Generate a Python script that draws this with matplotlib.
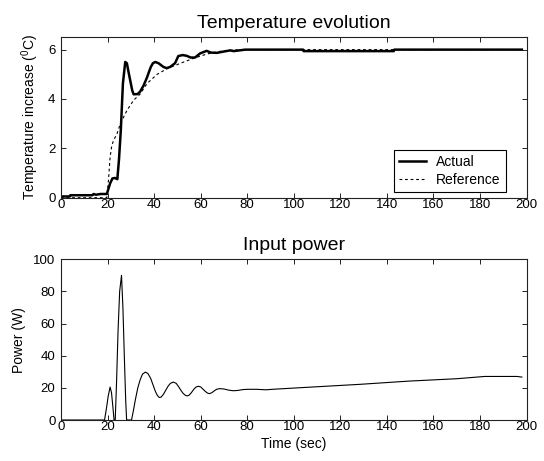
import matplotlib
matplotlib.use("Agg")
import matplotlib.pyplot as plt

plt.rcParams['font.family'] = ['Liberation Sans', 'DejaVu Sans']
plt.rcParams['mathtext.fontset'] = 'custom'
plt.rcParams['mathtext.rm'] = 'Liberation Sans'
plt.rcParams['mathtext.it'] = 'Liberation Sans'

# ---- data: temperature (actual) ----
t_actual = [0, 3.8, 4, 13.5, 14, 15, 17, 19.7, 21.1, 22.1, 23.2, 24.2, 24.9, 25.7, 26.6,
            27.6, 28.3, 29, 30, 30.6, 31.2, 32.9, 34, 35.5, 36.9, 37.8, 38.6, 39.5, 40.5,
            41.9, 44, 45.4, 46.9, 49, 50.4, 52.3, 54, 55.7, 57.6, 59.8, 62.6, 64.4, 67,
            69.8, 72.7, 74.2, 79.2, 104, 104.2, 143, 143.2, 198]
temp_actual = [0.05, 0.05, 0.1, 0.1, 0.15, 0.12, 0.15, 0.15, 0.58, 0.78, 0.8, 0.75, 1.53,
               2.74, 4.63, 5.5, 5.45, 5.1, 4.63, 4.35, 4.19, 4.2, 4.3, 4.55, 4.86, 5.1, 5.3,
               5.45, 5.5, 5.45, 5.3, 5.25, 5.3, 5.45, 5.74, 5.78, 5.75, 5.68, 5.68, 5.85,
               5.95, 5.88, 5.87, 5.92, 5.97, 5.94, 6.0, 6.0, 5.94, 5.94, 6.0, 6.0]

# ---- data: temperature (reference) ----
t_ref = [0, 19.7, 20.4, 21.1, 21.8, 22.6, 24.1, 25.5, 28.4, 31.2, 34, 37, 41.3, 45.6,
         51.4, 57, 62.6, 68.3, 77, 198]
temp_ref = [0, 0, 0.71, 1.65, 2.1, 2.33, 2.6, 3.0, 3.55, 3.95, 4.2, 4.63, 5.0, 5.23,
            5.45, 5.65, 5.82, 5.93, 6.0, 6.0]

# ---- data: input power ----
t_power = [0, 18.7, 19.5, 20.3, 21.1, 21.7, 22.3, 22.8, 23.3, 23.9, 24.5, 25.2, 26, 26.6,
           27.2, 27.8, 28.2, 30.3, 31, 32, 33, 34, 35, 36.2, 37.3, 38.5, 39.5, 40.5, 41.3,
           42.2, 43, 44, 45, 46, 47, 48.3, 49.5, 50.5, 51.5, 52.5, 53.5, 54.2, 55, 56, 57,
           58, 59, 60, 61, 62, 63, 63.8, 64.8, 66, 67, 68.2, 70, 72, 74, 76, 78, 80, 84,
           88, 92, 107.7, 128.5, 149.4, 170.2, 182, 196, 198]
power = [0, 0, 7, 15, 20.5, 17, 8, 0, 0, 25, 55, 80, 90, 70, 40, 12, 0, 0, 5, 13, 20, 25,
         28.5, 29.8, 29, 26, 22, 18, 15.5, 14, 14.2, 16, 18.5, 21, 22.8, 23.6, 22.8, 20.8,
         18.5, 16.5, 15.3, 15, 15.4, 17, 19, 20.5, 21, 20.6, 19.2, 17.8, 16.7, 16.4, 17,
         18.3, 19.2, 19.5, 19.3, 18.6, 18.2, 18.4, 18.9, 19.1, 19.1, 18.8, 19.2, 20.5,
         22.2, 24.2, 25.7, 27.1, 27.1, 26.7]

x_ticks = [0, 20, 40, 60, 80, 100, 120, 140, 160, 180, 200]

W, H = 544, 461
fig = plt.figure(figsize=(W / 100, H / 100), dpi=100)

def px_axes(l, r, t, b):
    return fig.add_axes([l / W, 1 - b / H, (r - l) / W, (b - t) / H])

ax1 = px_axes(61, 526.5, 37.3, 197.7)
ax2 = px_axes(61, 526.5, 259.3, 420)

for ax in (ax1, ax2):
    ax.set_xlim(0, 200)
    ax.set_xticks(x_ticks)
    ax.tick_params(direction='in', top=True, right=True, length=3.5, width=0.6,
                   labelsize=9.5, color='black')
    ax.tick_params(axis='x', pad=0.8)
    ax.tick_params(axis='y', pad=4)
    for s in ax.spines.values():
        s.set_linewidth(0.8)
        s.set_color('#222222')

ax1.plot(t_ref, temp_ref, color='black', lw=0.8, linestyle=(0, (2.5, 2.5)), label='Reference')
ax1.plot(t_actual, temp_actual, color='black', lw=1.8, label='Actual')
ax1.set_ylim(0, 6.5)
ax1.set_yticks([0, 2, 4, 6])
ax1.set_title('Temperature evolution', fontsize=14, pad=6.5)
ax1.set_ylabel('Temperature increase ($^0$C)', fontsize=10, labelpad=5)
h, l = ax1.get_legend_handles_labels()
leg = ax1.legend(h[::-1], l[::-1], loc='lower right', bbox_to_anchor=(0.955, 0.0355),
                 borderaxespad=0, fontsize=10, fancybox=False, framealpha=1,
                 edgecolor='black', handlelength=2.0, handletextpad=0.7,
                 labelspacing=0.3, borderpad=0.35)
leg.get_frame().set_linewidth(0.8)

ax2.plot(t_power, power, color='black', lw=0.8)
ax2.set_ylim(0, 100)
ax2.set_yticks([0, 20, 40, 60, 80, 100])
ax2.set_title('Input power', fontsize=14, pad=6.5)
ax2.set_ylabel('Power (W)', fontsize=10, labelpad=5)
ax2.set_xlabel('Time (sec)', fontsize=10, labelpad=3)

fig.savefig('out.png', dpi=100)
